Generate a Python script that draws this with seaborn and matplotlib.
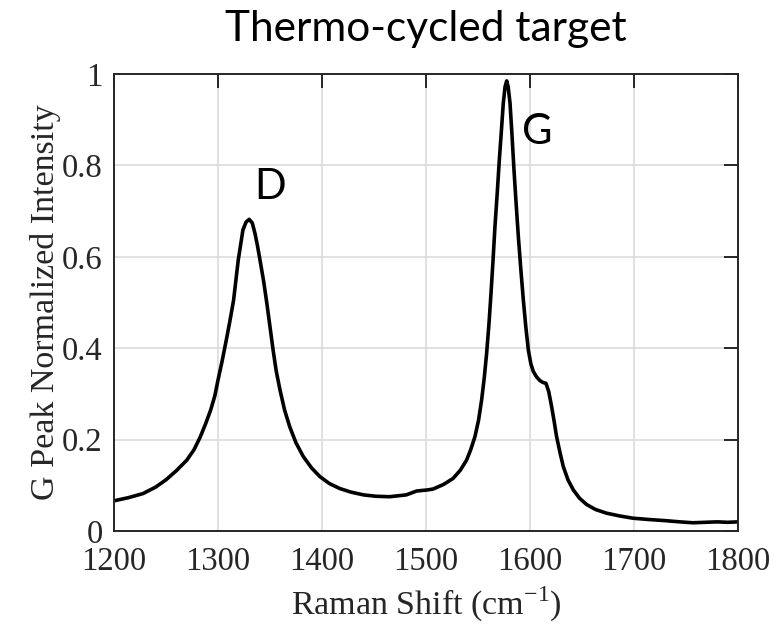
import matplotlib
matplotlib.use("Agg")
import matplotlib.pyplot as plt
import seaborn as sns
import pandas as pd

raman_shift = [1200, 1214, 1228, 1240, 1250, 1260, 1270, 1277, 1283, 1288, 1293, 1297, 1300, 1304, 1308,
               1311.5, 1315, 1319.5, 1324, 1327, 1330, 1333, 1335.6, 1338, 1340.4, 1344, 1347, 1350,
               1353, 1356, 1359.6, 1364, 1369, 1375, 1382, 1390, 1398, 1407, 1417, 1428, 1440, 1452,
               1465, 1481, 1491, 1502, 1507, 1517, 1526, 1533, 1539, 1543, 1547, 1550.5, 1553.5,
               1556, 1558.3, 1560.5, 1562.5, 1564.5, 1566.3, 1568.5, 1570.5, 1572.5, 1574.3, 1576,
               1577.6, 1579, 1580.8, 1582.7, 1584.6, 1586.7, 1588.8, 1591.2, 1593.6, 1596, 1598.4,
               1600.8, 1603.2, 1606.4, 1609.6, 1612.5, 1615.4, 1618, 1620.8, 1623.2, 1625.6, 1628.8,
               1632, 1636.5, 1641.6, 1647.5, 1654.4, 1663, 1673.6, 1686, 1699, 1715, 1731, 1744,
               1756.6, 1768, 1780, 1790, 1800]
intensity = [0.066, 0.073, 0.082, 0.096, 0.112, 0.132, 0.155, 0.178, 0.206, 0.234, 0.265, 0.296, 0.33,
             0.372, 0.418, 0.46, 0.505, 0.593, 0.659, 0.676, 0.682, 0.674, 0.651, 0.624, 0.593,
             0.545, 0.498, 0.447, 0.396, 0.35, 0.309, 0.265, 0.228, 0.193, 0.163, 0.138, 0.119,
             0.104, 0.093, 0.085, 0.079, 0.076, 0.075, 0.079, 0.0875, 0.09, 0.092, 0.102, 0.115,
             0.133, 0.155, 0.178, 0.206, 0.242, 0.287, 0.335, 0.389, 0.452, 0.52, 0.594, 0.666,
             0.74, 0.812, 0.876, 0.936, 0.972, 0.985, 0.972, 0.936, 0.866, 0.79, 0.715, 0.644,
             0.572, 0.505, 0.446, 0.396, 0.366, 0.349, 0.337, 0.329, 0.325, 0.323, 0.305, 0.272,
             0.24, 0.206, 0.172, 0.141, 0.112, 0.09, 0.072, 0.058, 0.047, 0.039, 0.033, 0.028,
             0.025, 0.0225, 0.020, 0.018, 0.019, 0.02, 0.019, 0.02]

x_ticks = [1200, 1300, 1400, 1500, 1600, 1700, 1800]
y_ticks = [0, 0.2, 0.4, 0.6, 0.8, 1]
y_tick_labels = ["0", "0.2", "0.4", "0.6", "0.8", "1"]
peak_labels = ["D", "G"]
peak_label_pos = [(1350, 0.753), (1606.7, 0.873)]

df = pd.DataFrame({"Raman Shift": raman_shift, "Intensity": intensity})

sns.set_style("whitegrid")
plt.rcParams["font.family"] = ["Liberation Serif", "DejaVu Serif"]
plt.rcParams["mathtext.fontset"] = "custom"
plt.rcParams["mathtext.rm"] = "Liberation Serif"

fig = plt.figure(figsize=(7.79, 6.36), dpi=100)
ax = fig.add_axes([0.1463, 0.1651, 0.8011, 0.7185])

sns.lineplot(data=df, x="Raman Shift", y="Intensity", ax=ax, color="black", linewidth=2.6,
             estimator=None, sort=False)

ax.set_xlim(1200, 1800)
ax.set_ylim(0, 1)
ax.set_xticks(x_ticks)
ax.set_xticklabels([str(t) for t in x_ticks])
ax.set_yticks(y_ticks)
ax.set_yticklabels(y_tick_labels)
ax.grid(True, color="#d9d9d9", linewidth=1.1)
for s in ax.spines.values():
    s.set_color("#262626")
    s.set_linewidth(1.4)
    s.set_visible(True)
ax.tick_params(direction="in", length=10, width=1.4, color="#262626",
               top=True, right=True, labelcolor="#262626")
ax.tick_params(axis="x", pad=11)
ax.tick_params(axis="y", pad=8)
for lab in ax.get_xticklabels() + ax.get_yticklabels():
    lab.set_fontsize(23.5)

ax.set_xlabel("Raman Shift (cm$^{\\mathregular{-1}}$)", fontsize=24.5, color="#262626", labelpad=6)
ax.set_ylabel("G Peak Normalized Intensity", fontsize=24.5, color="#262626", labelpad=1)

for lab, (px, py) in zip(peak_labels, peak_label_pos):
    ax.text(px, py, lab, fontsize=30, family=["Lato", "DejaVu Sans"], ha="center", va="center",
            color="black")

fig.text(0.547, 0.955, "Thermo-cycled target", fontsize=30.5, family=["Lato", "DejaVu Sans"],
         ha="center", va="center", color="black")

fig.savefig("out.png", dpi=100)
